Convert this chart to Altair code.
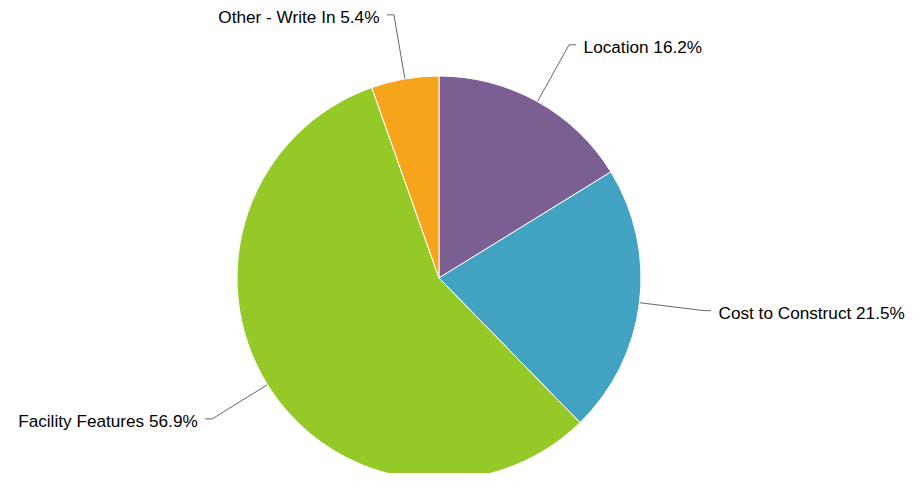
import math
import altair as alt
import pandas as pd

categories = ["Location", "Cost to Construct", "Facility Features", "Other - Write In"]
percents = [16.2, 21.5, 56.9, 5.4]
colors = ["#7C5F92", "#41A3C1", "#95C927", "#F5A41C"]

W, H = 899, 465
CX, CY = 431, 270
R = 202
R_LABEL = 267
ELBOW = 7
GAP = 7.5

total = sum(percents)
rows, line_rows = [], []
cum = 0.0
for i, (c, p) in enumerate(zip(categories, percents)):
    mid = (cum + p / 2) / total * 2 * math.pi
    cum += p
    s, co = math.sin(mid), math.cos(mid)
    ex, ey = CX + R * s, CY - R * co
    bx, by = CX + R_LABEL * s, CY - R_LABEL * co
    side = 1 if s >= 0 else -1
    hx = bx + side * ELBOW
    rows.append({"cat": c, "val": p, "order": i,
                 "label": f"{c} {p}%", "lx": hx + side * GAP, "ly": by,
                 "side": "R" if side > 0 else "L"})
    for k, (x, y) in enumerate([(ex, ey), (bx, by), (hx, by)]):
        line_rows.append({"cat": c, "k": k, "x": x, "y": y})

df = pd.DataFrame(rows)
lines = pd.DataFrame(line_rows)

xs = alt.Scale(domain=[0, W], range=[0, W])
ys = alt.Scale(domain=[0, H], range=[0, H])

pie = alt.Chart(df).mark_arc(radius=R, stroke="white", strokeWidth=1).encode(
    theta=alt.Theta("val:Q", stack=True),
    order=alt.Order("order:Q"),
    color=alt.Color("cat:N", scale=alt.Scale(domain=categories, range=colors), legend=None),
    x=alt.value(CX), y=alt.value(CY),
)

conn = alt.Chart(lines).mark_line(color="#666666", strokeWidth=1).encode(
    x=alt.X("x:Q", scale=xs, axis=None),
    y=alt.Y("y:Q", scale=ys, axis=None),
    detail="cat:N",
    order="k:Q",
)

font = dict(font="Liberation Sans", fontSize=17.2, color="#000000", baseline="middle", dy=3)
txt_r = alt.Chart(df).transform_filter(alt.datum.side == "R").mark_text(align="left", **font).encode(
    x=alt.X("lx:Q", scale=xs, axis=None), y=alt.Y("ly:Q", scale=ys, axis=None), text="label:N")
txt_l = alt.Chart(df).transform_filter(alt.datum.side == "L").mark_text(align="right", **font).encode(
    x=alt.X("lx:Q", scale=xs, axis=None), y=alt.Y("ly:Q", scale=ys, axis=None), text="label:N")

chart = alt.layer(conn, pie, txt_r, txt_l).properties(
    width=W, height=H, padding=0, autosize=alt.AutoSizeParams(type="none")
).configure_view(stroke=None)

chart.save("out.html", embed_options={"renderer": "svg", "actions": False})
